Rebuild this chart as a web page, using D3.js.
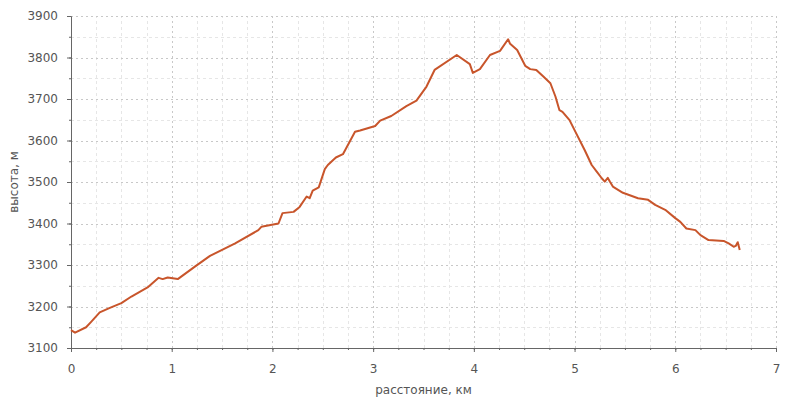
<!DOCTYPE html>
<html>
<head>
<meta charset="utf-8">
<script src="https://cdn.jsdelivr.net/npm/d3@7"></script>
<style>
  body { margin: 0; background: #fff; }
  svg { display: block; font-family: "DejaVu Sans", sans-serif; }
</style>
</head>
<body>
<svg id="chart" width="800" height="400"></svg>
<script>
const distanceKm = [0, 0.04, 0.15, 0.2, 0.285, 0.38, 0.5, 0.6, 0.76, 0.87, 0.91, 0.96, 1.06, 1.23, 1.38, 1.63, 1.86, 1.89, 2.06, 2.10, 2.21, 2.27, 2.34, 2.37, 2.40, 2.46, 2.52, 2.55, 2.63, 2.70, 2.78, 2.82, 2.87, 3.02, 3.07, 3.18, 3.33, 3.43, 3.53, 3.61, 3.83, 3.96, 3.99, 4.06, 4.16, 4.26, 4.34, 4.36, 4.43, 4.51, 4.56, 4.62, 4.69, 4.76, 4.81, 4.85, 4.88, 4.95, 5.00, 5.10, 5.17, 5.22, 5.27, 5.30, 5.33, 5.35, 5.38, 5.48, 5.63, 5.73, 5.80, 5.90, 6.00, 6.05, 6.11, 6.20, 6.25, 6.33, 6.48, 6.53, 6.58, 6.60, 6.62, 6.64];
const elevationM = [3143, 3137, 3150, 3163, 3186, 3196, 3208, 3224, 3246, 3269, 3266, 3270, 3266, 3296, 3322, 3352, 3384, 3392, 3400, 3425, 3428, 3440, 3465, 3461, 3479, 3487, 3531, 3541, 3559, 3567, 3603, 3621, 3624, 3635, 3648, 3659, 3683, 3696, 3730, 3770, 3806, 3784, 3763, 3772, 3806, 3816, 3844, 3833, 3818, 3780, 3772, 3770, 3754, 3738, 3706, 3673, 3669, 3649, 3625, 3577, 3541, 3525, 3509, 3501, 3510, 3501, 3489, 3474, 3461, 3457, 3445, 3433, 3413, 3404, 3388, 3384, 3372, 3360, 3358, 3352, 3344, 3346, 3355, 3336];
const xTicks = [0, 1, 2, 3, 4, 5, 6, 7];
const xMinorTicks = d3.range(0, 7.001, 0.25);
const yTicks = [3100, 3200, 3300, 3400, 3500, 3600, 3700, 3800, 3900];
const yMinorTicks = d3.range(3100, 3901, 50);
const xTitle = "расстояние, км";
const yTitle = "высота, м";

const W = 800, H = 400;
const m = { left: 71, right: 24, top: 16, bottom: 52 };
const svg = d3.select("#chart");
const x = d3.scaleLinear().domain([0, 7]).range([m.left, W - m.right]);
const y = d3.scaleLinear().domain([3100, 3900]).range([H - m.bottom, m.top]);

const g = svg.append("g");
// minor grid
g.selectAll(".vminor").data(xMinorTicks.filter(v => Math.abs(v - Math.round(v)) > 1e-6)).enter()
  .append("line").attr("x1", d => Math.round(x(d)) + 0.5).attr("x2", d => Math.round(x(d)) + 0.5)
  .attr("y1", y(3100)).attr("y2", y(3900))
  .attr("stroke", "#e6e6e6").attr("stroke-dasharray", "3,3");
g.selectAll(".hminor").data(yMinorTicks.filter(v => v % 100 !== 0)).enter()
  .append("line").attr("y1", d => Math.round(y(d)) + 0.5).attr("y2", d => Math.round(y(d)) + 0.5)
  .attr("x1", x(0)).attr("x2", x(7))
  .attr("stroke", "#e6e6e6").attr("stroke-dasharray", "3,3");
// major grid
g.selectAll(".vmajor").data(xTicks.filter(v => v > 0)).enter()
  .append("line").attr("x1", d => Math.round(x(d)) + 0.5).attr("x2", d => Math.round(x(d)) + 0.5)
  .attr("y1", y(3100)).attr("y2", y(3900))
  .attr("stroke", "#c8c8c8").attr("stroke-dasharray", "2,3");
g.selectAll(".hmajor").data(yTicks.filter(v => v > 3100)).enter()
  .append("line").attr("y1", d => Math.round(y(d)) + 0.5).attr("y2", d => Math.round(y(d)) + 0.5)
  .attr("x1", x(0)).attr("x2", x(7))
  .attr("stroke", "#c8c8c8").attr("stroke-dasharray", "2,3");

// axes
const axisColor = "#666";
const xAxis = svg.append("g").attr("transform", `translate(0,${y(3100)})`)
  .call(d3.axisBottom(x).tickValues(xTicks).tickFormat(d3.format("d")).tickSize(4).tickPadding(12));
const xAxisMinor = svg.append("g").attr("transform", `translate(0,${y(3100)})`)
  .call(d3.axisBottom(x).tickValues(xMinorTicks).tickFormat("").tickSize(2).tickSizeOuter(0));
const yAxis = svg.append("g").attr("transform", `translate(${x(0)},0)`)
  .call(d3.axisLeft(y).tickValues(yTicks).tickFormat(d3.format("d")).tickSize(4).tickPadding(9));
const yAxisMinor = svg.append("g").attr("transform", `translate(${x(0)},0)`)
  .call(d3.axisLeft(y).tickValues(yMinorTicks).tickFormat("").tickSize(2).tickSizeOuter(0));
[xAxis, xAxisMinor, yAxis, yAxisMinor].forEach(a => {
  a.selectAll("path").attr("stroke", axisColor);
  a.selectAll("line").attr("stroke", axisColor);
  a.selectAll("text").attr("fill", "#555").style("font-size", "12px").style("font-family", "DejaVu Sans, sans-serif");
});
xAxisMinor.select("path").remove();
yAxisMinor.select("path").remove();

// line
const pts = distanceKm.map((d, i) => [d, elevationM[i]]);
svg.append("path").datum(pts)
  .attr("fill", "none").attr("stroke", "#c8552b").attr("stroke-width", 2)
  .attr("stroke-linejoin", "round")
  .attr("d", d3.line().x(d => x(d[0])).y(d => y(d[1])));

// titles
svg.append("text").attr("x", (x(0) + x(7)) / 2).attr("y", 394)
  .attr("text-anchor", "middle").attr("fill", "#555").style("font-size", "12px").text(xTitle);
svg.append("text").attr("transform", `translate(18,${(y(3100) + y(3900)) / 2}) rotate(-90)`)
  .attr("text-anchor", "middle").attr("fill", "#555").style("font-size", "12px").text(yTitle);
</script>
</body>
</html>
